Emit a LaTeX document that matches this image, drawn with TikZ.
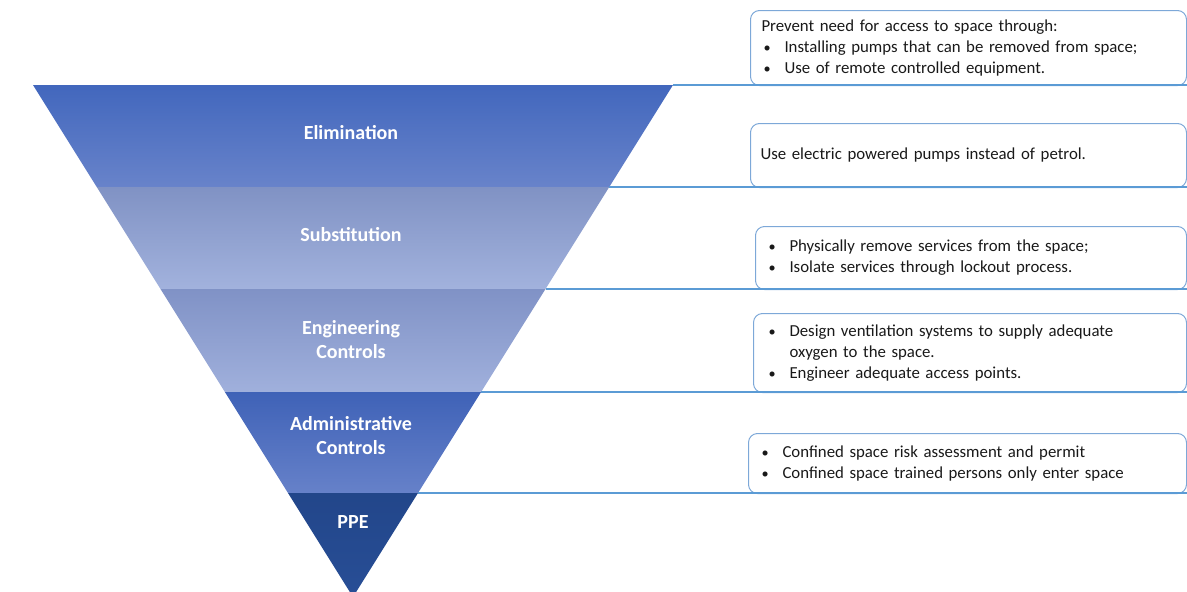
\documentclass[tikz,border=0pt]{standalone}
\usepackage{fontspec}
\setmainfont{Carlito}
\usetikzlibrary{positioning}
\definecolor{elimtop}{RGB}{66,103,189}
\definecolor{elimbot}{RGB}{104,131,202}
\definecolor{subtop}{RGB}{128,146,196}
\definecolor{subbot}{RGB}{162,178,221}
\definecolor{engtop}{RGB}{128,146,198}
\definecolor{engbot}{RGB}{160,176,220}
\definecolor{admtop}{RGB}{63,98,183}
\definecolor{admbot}{RGB}{102,129,201}
\definecolor{ppetop}{RGB}{34,70,138}
\definecolor{ppebot}{RGB}{40,78,150}
\definecolor{linkblue}{RGB}{91,155,213}
\definecolor{boxblue}{RGB}{125,168,216}
\definecolor{txtgray}{RGB}{25,25,25}
\newcommand{\bitem}{\makebox[23pt][l]{\hspace{2pt}\scalebox{0.85}{\textbullet}}}

\begin{document}
\begin{tikzpicture}[x=1pt, y=-1pt, lbl/.style={text=white, align=center, font=\fontsize{20}{24}\selectfont\bfseries}, link/.style={draw=linkblue, line width=1.3pt}]
\tikzstyle{info}=[draw=boxblue, line width=1pt, rounded corners=9pt, anchor=north west, align=left, inner ysep=0pt, text=txtgray, font=\fontsize{16.8}{21}\selectfont]
\useasboundingbox (0,0) rectangle (1187,592);
% corners of the funnel
\coordinate (l0) at (33,85);     \coordinate (r0) at (673,85);
\coordinate (l1) at (96.75,187); \coordinate (r1) at (609.25,187);
\coordinate (l2) at (160.5,289); \coordinate (r2) at (545.5,289);
\coordinate (l3) at (224.9,392); \coordinate (r3) at (481.1,392);
\coordinate (l4) at (288,493);   \coordinate (r4) at (418,493);
\coordinate (apex) at (353,597);
\foreach \i/\j/\ct/\cb in {0/1/elimtop/elimbot, 1/2/subtop/subbot, 2/3/engtop/engbot, 3/4/admtop/admbot}{
\shade[top color=\ct, bottom color=\cb] (l\i) -- (r\i) -- (r\j) -- (l\j) -- cycle;
}
\shade[top color=ppetop, bottom color=ppebot] (l4) -- (r4) -- (apex) -- cycle;
\node[lbl] (nElim) at (351,133){Elimination};
\node[lbl] (nSubs) at (351,235){Substitution};
\node[lbl] (nEng) at (351,340){Engineering\\Controls};
\node[lbl] (nAdm) at (351,436){Administrative\\Controls};
\node[lbl] (nPPE) at (353,522){PPE};
% boxes on the right
\node[info, inner xsep=11pt, text width=414pt, minimum height=75pt] (b0) at (750,10){Prevent need for access to space through:\\
\bitem Installing pumps that can be removed from space;\\
\bitem Use of remote controlled equipment.};
\node[info, inner xsep=10pt, text width=416pt, minimum height=64pt] (b1) at (750,123){Use electric powered pumps instead of petrol.};
\node[info, inner xsep=11pt, text width=409pt, minimum height=63pt] (b2) at (755,226){\bitem Physically remove services from the space;\\
\bitem Isolate services through lockout process.};
\node[info, inner xsep=13pt, text width=407pt, minimum height=79pt] (b3) at (753,313){\bitem Design ventilation systems to supply adequate\\
\hspace*{23pt}oxygen to the space.\\
\bitem Engineer adequate access points.};
\node[info, inner xsep=11pt, text width=416pt, minimum height=60pt] (b4) at (748,433){\bitem Confined space risk assessment and permit\\
\bitem Confined space trained persons only enter space};
\foreach \i in {0,...,4}{
\draw[link] (r\i) -- (r\i -| b\i.east);
}
\end{tikzpicture}
\end{document}
